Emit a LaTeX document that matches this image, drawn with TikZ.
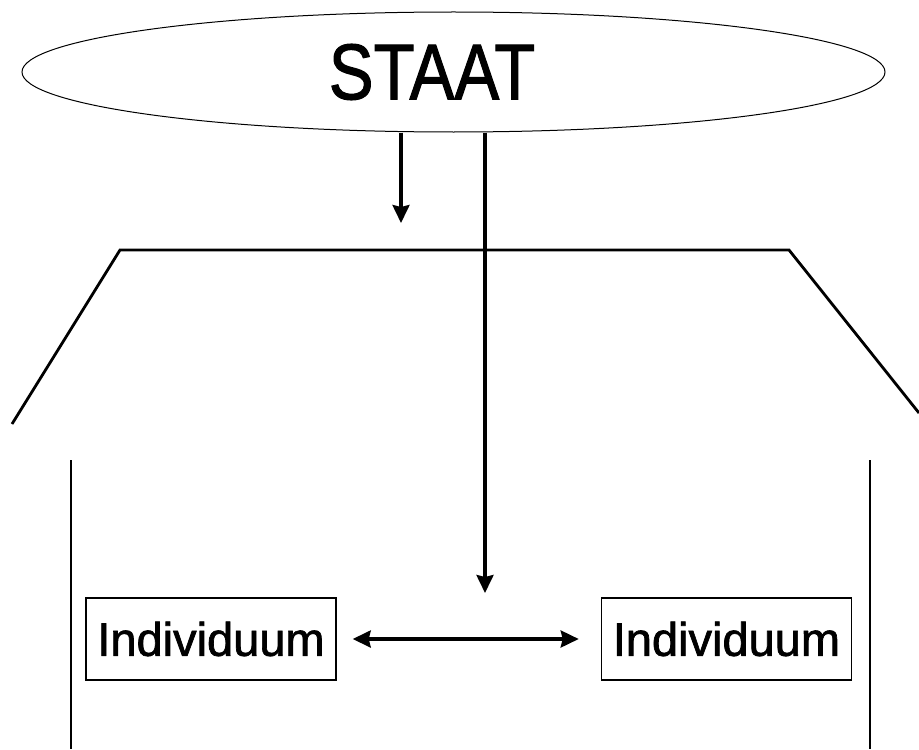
\documentclass[tikz,border=0pt]{standalone}
\usepackage{fontspec}
\setmainfont{Liberation Sans}
\newfontfamily\dinfont[FakeBold=1.5]{Liberation Sans}
\usepackage{graphicx}
\usetikzlibrary{shapes.geometric, arrows.meta, positioning}
\tikzstyle{state} = [ellipse, draw=black, line width=0.5pt, minimum width=431.5pt, minimum height=60pt, inner sep=0pt, font=\dinfont\fontsize{39.5}{42}\selectfont]
\tikzstyle{person} = [rectangle, draw=black, line width=0.7pt, minimum width=125pt, minimum height=41pt, inner sep=0pt, font=\dinfont\fontsize{23.5}{26}\selectfont]
\tikzstyle{arrow} = [line width=1.6pt, -{Stealth[length=9pt, width=8.5pt, inset=1pt]}]
\tikzstyle{twoway} = [line width=1.6pt, {Stealth[length=9pt, width=8.5pt, inset=1pt]}-{Stealth[length=9pt, width=8.5pt, inset=1pt]}]
\tikzstyle{wall} = [line width=1.4pt]
\begin{document}
\begin{tikzpicture}[x=0.5pt, y=-0.5pt]
\useasboundingbox (0,0) rectangle (919,749);

\node (staat) [state] at (453.5,72) {\scalebox{0.85}[1]{STAAT}\kern21.5pt};
\node (indivL) [person] at (211,639) {Individuum};
\node (indivR) [person, right=132pt of indivL] {Individuum};

\coordinate (tip1) at (401,223);
\coordinate (tip2) at (485,593);

% house
\draw [wall] (12,424) -- (120,250) -- (789,250) -- (919,413);
\draw [wall] (71,460) -- (71,749);
\draw [wall] (870,460) -- (870,749);

\draw [arrow] (tip1 |- staat.south) -- (tip1);
\draw [arrow] (tip2 |- staat.south) -- (tip2);
\draw [twoway, shorten <=8pt, shorten >=11pt] (indivL) -- (indivR);

\end{tikzpicture}
\end{document}
